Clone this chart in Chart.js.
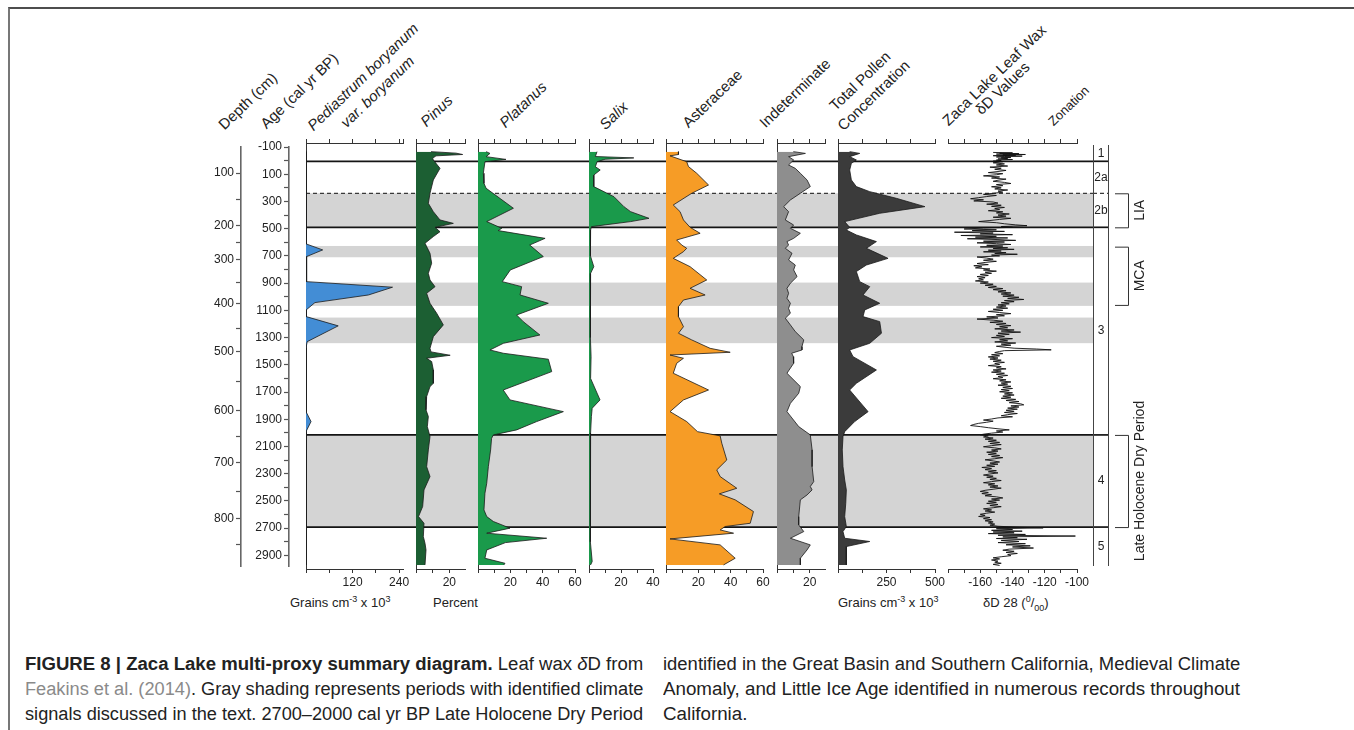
<!DOCTYPE html>
<html lang="en">
<head>
<meta charset="utf-8">
<title>Zaca Lake multi-proxy summary diagram</title>
<script src="https://cdn.jsdelivr.net/npm/chart.js@4.4.1/dist/chart.umd.min.js"></script>
<style>
  html, body { margin:0; padding:0; background:#fff; }
  #fig { position:relative; width:1354px; height:730px; overflow:hidden; background:#fff;
         font-family:"Liberation Sans", Arial, Helvetica, sans-serif; color:#222; }
  #frame { position:absolute; left:8px; top:7px; width:1400px; height:800px;
           border-top:2px solid #4d4d4d; border-left:2px solid #777; }
  canvas { position:absolute; }
  .hd { position:absolute; white-space:nowrap; font-size:15px; line-height:15px; color:#222;
        transform-origin:0 100%; transform:rotate(-44deg); }
  .it { font-style:italic; }
  .ax { position:absolute; white-space:nowrap; font-size:13px; line-height:15px; color:#222; }
  .ax sup, .ax sub { font-size:9px; line-height:0; }
  .cap { position:absolute; white-space:nowrap; font-size:18px; line-height:22px; color:#222;
         transform-origin:0 50%; }
  .ref { color:#8a8a8a; }
</style>
</head>
<body>
<div id="fig">
  <div id="frame"></div>

  <!-- column headings -->
  <div class="hd" style="left:226px;top:117px">Depth (cm)</div>
  <div class="hd" style="left:268px;top:116px">Age (cal yr BP)</div>
  <div class="hd it" style="left:315px;top:118px">Pediastrum boryanum</div>
  <div class="hd it" style="left:348px;top:115px">var. boryanum</div>
  <div class="hd it" style="left:428px;top:114px">Pinus</div>
  <div class="hd it" style="left:507px;top:115px">Platanus</div>
  <div class="hd it" style="left:607px;top:117px">Salix</div>
  <div class="hd" style="left:690px;top:115px">Asteraceae</div>
  <div class="hd" style="left:767px;top:115px">Indeterminate</div>
  <div class="hd" style="left:837px;top:98px">Total Pollen</div>
  <div class="hd" style="left:845px;top:118px">Concentration</div>
  <div class="hd" style="left:950px;top:113px">Zaca Lake Leaf Wax</div>
  <div class="hd" style="left:983px;top:102px">δD Values</div>
  <div class="hd" style="left:1055px;top:115px;font-size:13px;line-height:13px">Zonation</div>

  <!-- axis units -->
  <div class="ax" style="left:290px;top:595px">Grains cm<sup>-3</sup> x 10<sup>3</sup></div>
  <div class="ax" style="left:433px;top:595px">Percent</div>
  <div class="ax" style="left:838px;top:595px">Grains cm<sup>-3</sup> x 10<sup>3</sup></div>
  <div class="ax" style="left:983px;top:595px">δD 28 (<sup>0</sup>/<sub>00</sub>)</div>

  <!-- caption -->
  <div class="cap" data-w="618" style="left:25px;top:653px"><b>FIGURE 8 | Zaca Lake multi-proxy summary diagram.</b> Leaf wax <i>δ</i>D from</div>
  <div class="cap" data-w="618" style="left:25px;top:678px"><span class="ref">Feakins et al. (2014)</span>. Gray shading represents periods with identified climate</div>
  <div class="cap" data-w="618" style="left:25px;top:703px">signals discussed in the text. 2700–2000 cal yr BP Late Holocene Dry Period</div>
  <div class="cap" data-w="577" style="left:663px;top:653px">identified in the Great Basin and Southern California, Medieval Climate</div>
  <div class="cap" data-w="577" id="capLast" style="left:663px;top:678px">Anomaly, and Little Ice Age identified in numerous records throughout</div>
  <div class="cap" data-follow="capLast" style="left:663px;top:703px">California.</div>
</div>

<script>
// ---------------------------------------------------------------------------
// Age–depth model (depth in cm at each age in cal yr BP)
const depthTicks      = [100, 150, 200, 250, 300, 350, 400, 450, 500, 550, 600, 650, 700, 750, 800, 850];
const depthTickAges   = [91, 282, 480, 605, 730, 899, 1053, 1236, 1405, 1623, 1836, 2029, 2218, 2431, 2629, 2822];
const depthLabelled   = [100, 200, 300, 400, 500, 600, 700, 800];

// Age axis ticks (cal yr BP)
const ageTicks    = [-100, 0, 100, 200, 300, 400, 500, 600, 700, 800, 900, 1000, 1100, 1200, 1300, 1400, 1500,
                     1600, 1700, 1800, 1900, 2000, 2100, 2200, 2300, 2400, 2500, 2600, 2700, 2800, 2900];
const ageLabelled = [-100, 100, 300, 500, 700, 900, 1100, 1300, 1500, 1700, 1900, 2100, 2300, 2500, 2700, 2900];

// Zones, sub-zone boundary and climate periods (cal yr BP)
const zoneBounds    = [5, 490, 2015, 2692];
const subzoneBounds = [240];
const zoneNames     = ['1', '2a', '2b', '3', '4', '5'];
const zoneTops      = [-100, 5, 240, 490, 2015, 2692];
const zoneBottoms   = [5, 240, 490, 2015, 2692, 2978];
const shadedStart   = [240, 627, 896, 1153, 2015];
const shadedEnd     = [490, 710, 1067, 1341, 2692];
const periodNames   = ['LIA', 'MCA', 'Late Holocene Dry Period'];
const periodStart   = [240, 632, 2015];
const periodEnd     = [490, 1060, 2692];

// Pediastrum boryanum var. boryanum (grains cm-3 x 10^3)
const pediastrumAge   = [-66, 600, 612, 656, 705, 889, 930, 987, 1043, 1097, 1146, 1214, 1330, 1378, 1844, 1917, 1991, 2970];
const pediastrumValue = [0, 0, 1, 43, 1.5, 1.5, 223, 161, 23, 0.5, 0.5, 83, 3, 0, 0, 13, 0, 0];

// Pinus (%)
const pinusAge   = [-66, -55, -45, -35, -17, -4.5, 57, 142, 240, 314, 375, 436, 461, 490, 522, 558, 607, 681, 754, 828,
                    877, 926, 975, 1048, 1121, 1207, 1293, 1379, 1405, 1430, 1452, 1476, 1538, 1636, 1660, 1733, 1831,
                    1880, 1954, 2027, 2125, 2248, 2321, 2419, 2541, 2615, 2664, 2762, 2811, 2860, 2970];
const pinusValue = [9, 24, 28, 12, 10, 10.4, 14.4, 10.4, 8.4, 7.4, 10.4, 14.4, 22.4, 11.4, 14.4, 10.4, 5.4, 8.4, 9.4, 7.4,
                    8.4, 11.4, 6.4, 8.4, 12.4, 16.4, 10.4, 8.4, 9, 20.5, 6.4, 9.4, 10.4, 10.4, 8.4, 6.4, 6,
                    7.4, 6.8, 8.4, 7.4, 6.4, 8.4, 4.8, 4.0, 1.5, 4.8, 4.4, 5.4, 6.0, 5.4];

// Platanus (%)
const platanusAge   = [-66, -53, -29, -9, 8, 93, 167, 203, 350, 448, 497, 514, 571, 620, 705, 803, 889, 926, 987, 1048,
                       1134, 1183, 1281, 1342, 1391, 1415, 1459, 1550, 1685, 1758, 1844, 1917, 1978, 2015, 2040, 2125,
                       2248, 2370, 2443, 2566, 2615, 2651, 2700, 2737, 2774, 2806, 2860, 2921, 2958, 2970];
const platanusValue = [5, 7.4, 5, 17.3, 4.3, 3.3, 3.7, 5, 21.9, 5.4, 14.7, 12.5, 41.5, 32, 40.4, 20, 15, 27, 26, 43.5,
                       23.9, 28, 38.3, 15.7, 7.4, 15.6, 43.5, 45.6, 15.6, 19.8, 52.8, 36.3, 23.9, 9.5, 8.4, 7.8,
                       6.4, 5.4, 4.3, 3.7, 5.4, 9.5, 19.8, 5.4, 42.5, 17, 5.4, 4.3, 16.7, 16];

// Salix (%)
const salixAge   = [-66, -30, -20, -10, 8, 45, 69, 106, 191, 265, 338, 375, 424, 448, 485, 510, 560, 700, 779, 828,
                    900, 1000, 1100, 1200, 1300, 1440, 1600, 1758, 1819, 1880, 2000, 2200, 2400, 2600, 2800, 2945, 2970];
const salixValue = [5, 4, 28, 10, 5, 4, 7, 3, 3, 15.6, 21.8, 26, 37.5, 26, 1.5, 1, 0.8, 1, 3, 1,
                    0.8, 1, 0.8, 1, 0.7, 1.3, 1, 6.9, 2, 1.5, 1, 0.8, 1, 0.8, 0.8, 2, 1];

// Asteraceae (%)
const asteraceaeAge   = [-66, -45, -35, 8, 44, 93, 179, 240, 326, 375, 436, 490, 534, 583, 620, 644, 669, 718, 779, 877,
                         938, 987, 1024, 1073, 1146, 1220, 1268, 1317, 1379, 1408, 1428, 1452, 1489, 1562, 1685, 1758,
                         1844, 1917, 1991, 2022, 2076, 2199, 2272, 2321, 2407, 2448, 2492, 2578, 2664, 2688, 2713,
                         2737, 2779, 2823, 2921, 2970];
const asteraceaeValue = [7.7, 7.7, 2.5, 12.8, 13.9, 19, 26.3, 15.9, 4.5, 8.7, 10.8, 14.9, 21.1, 6.6, 9.7, 12.8, 10.8, 4.5, 14.9, 25.2,
                         14.9, 24.2, 10.8, 7.7, 7.7, 10.8, 7.7, 15.9, 27.3, 39.7, 2.5, 10.8, 6.6, 4.5, 26.3, 10.8,
                         2.5, 12.8, 19.5, 33.5, 34.5, 37.6, 31.4, 33.5, 43.8, 33, 42.8, 54.1, 52.1, 36.6, 33.5,
                         41.8, 2.5, 33.5, 42.8, 35.6];

// Indeterminate (%)
const indetAge   = [-66, -53, -29, -5, 32, 57, 93, 142, 191, 240, 289, 338, 375, 436, 473, 497, 534, 571, 595, 620,
                    644, 681, 730, 767, 803, 852, 901, 938, 975, 1011, 1048, 1085, 1121, 1158, 1207, 1256, 1317, 1366,
                    1391, 1415, 1440, 1489, 1562, 1660, 1709, 1783, 1844, 1954, 2015, 2125, 2248, 2358, 2394, 2419,
                    2456, 2492, 2615, 2676, 2725, 2774, 2823, 2860, 2921, 2970];
const indetValue = [10, 17.4, 7.1, 10.2, 7.1, 11.2, 14.3, 18.4, 20.4, 14.3, 8.2, 4.1, 7.1, 5.1, 10.2, 8.2, 14.3, 10.2, 6.1, 7.1,
                    5.1, 9.2, 7.1, 11.2, 10.2, 12.3, 8.2, 6.1, 7.1, 6.1, 8.2, 7.1, 8.2, 5.1, 8.2, 11.2, 16.4, 15.3,
                    15.3, 9, 10, 10.2, 6.1, 14.3, 13.3, 8.2, 6.1, 13.3, 20.4, 21.5, 21.5, 22.5, 20.4, 21.5,
                    18.4, 14.3, 13.3, 13.3, 16.4, 8.2, 20.4, 18.4, 14.3, 14.3];

// Total pollen concentration (grains cm-3 x 10^3)
const totalAge   = [-66, -53, -29, -5, 20, 69, 142, 191, 228, 277, 338, 387, 448, 490, 510, 546, 595, 644, 718, 767,
                    815, 889, 926, 987, 1048, 1097, 1146, 1183, 1268, 1342, 1391, 1440, 1538, 1636, 1685, 1844, 1917,
                    1991, 2027, 2125, 2248, 2346, 2419, 2517, 2615, 2688, 2725, 2774, 2798, 2835, 2909, 2970];
const totalValue = [60, 112, 60, 94.7, 68.9, 60.3, 68.9, 94.7, 163.5, 301, 448, 215, 34.5, 60, 43, 94.7, 198, 146.4, 258, 146.4,
                    94.7, 112, 163.5, 129, 215, 137.8, 129, 215, 224, 163.5, 60, 77.5, 198, 94.7, 60, 155, 86,
                    34.5, 25.8, 22, 25.8, 34.5, 43, 40, 34.5, 43, 25.8, 34.5, 163.5, 43, 43, 43];

// Zaca Lake leaf wax dD (per mil)
const dDAge = [
  -60, -57, -54, -51, -48, -45, -42, -39, -36, -33, -30, -27, -24, -20, -16, -12, -8, -4, 0, 4,
  8, 16, 24, 32, 40, 48, 56, 64, 72, 80, 88, 96, 104, 112, 120, 128, 136, 144, 152, 160,
  168, 176, 184, 192, 200, 208, 216, 224, 232, 240,
  248, 256, 264, 272, 280, 288, 296, 304, 312, 320, 328, 336, 344, 352, 360, 368, 376, 384, 392, 400,
  408, 416, 424, 432, 440, 448, 456, 464, 472, 478, 484, 490,
  496, 502, 508, 514, 520, 526, 532, 538, 544, 550, 556, 562, 568, 574, 580, 586, 592, 598, 604, 610,
  616, 622, 628, 634, 640, 646, 652, 658, 664, 670, 676, 682, 688, 694, 700,
  708, 716, 724, 732, 740, 748, 756, 764, 772, 780, 788, 796, 804, 812, 820, 828, 836, 844, 852, 860,
  868, 876, 884, 892, 900, 908, 916, 924, 932, 940, 948, 956, 964, 972, 980, 988, 996, 1004, 1012, 1020,
  1028, 1036, 1044, 1052, 1060, 1068,
  1076, 1084, 1092, 1100, 1108, 1116, 1124, 1132, 1140, 1148, 1156, 1164, 1172, 1180, 1188, 1196, 1204, 1212, 1220, 1228,
  1236, 1244, 1252, 1260, 1268, 1276, 1284, 1292, 1300, 1308, 1316, 1324, 1332, 1340, 1348, 1356, 1364, 1372,
  1378, 1384, 1390, 1396, 1402,
  1410, 1418, 1426, 1434, 1442, 1450, 1458, 1466, 1474, 1482, 1490, 1498, 1506, 1514, 1522, 1530, 1538, 1546, 1554, 1562,
  1570, 1578, 1586, 1594, 1602, 1610, 1618, 1626, 1634, 1642, 1650, 1658, 1666, 1674, 1682, 1690, 1698, 1706, 1714, 1722,
  1730, 1738, 1746, 1754, 1762, 1770, 1778, 1786, 1794, 1802, 1810, 1818, 1826, 1834, 1842, 1850, 1858, 1866, 1874, 1882,
  1890, 1898, 1906, 1914, 1922, 1930, 1938, 1946, 1954, 1962, 1970, 1978, 1986, 1994, 2002, 2008,
  2014, 2022, 2030, 2038, 2046, 2054, 2062, 2070, 2078, 2086, 2094, 2102, 2110, 2118, 2126, 2134, 2142, 2150, 2158, 2166,
  2174, 2182, 2190, 2198, 2206, 2214, 2222, 2230, 2238, 2246, 2254, 2262, 2270, 2278, 2286, 2294, 2302, 2310, 2318, 2326,
  2334, 2342, 2350, 2358, 2366, 2374, 2382, 2390, 2398, 2406, 2414, 2422, 2430, 2438, 2446, 2454, 2462, 2470, 2478, 2486,
  2494, 2502, 2510, 2518, 2526, 2534, 2542, 2550, 2558, 2566, 2574, 2582, 2590, 2598, 2606, 2614, 2622, 2630, 2638, 2646,
  2654, 2662, 2670, 2678, 2686,
  2694, 2698, 2704, 2710, 2716, 2722, 2728, 2734, 2740, 2746, 2752, 2758, 2764, 2770, 2776, 2782, 2790, 2798, 2806, 2814,
  2822, 2830, 2838, 2846, 2854, 2862, 2870, 2878, 2886, 2894, 2902, 2910, 2918, 2926, 2934, 2942, 2950, 2958, 2966, 2974
];
const dDValue = [
  -152, -140, -148, -136, -150, -132, -146, -138, -152, -134, -145, -150, -141, -147, -143, -149, -140, -150, -147, -152,
  -146, -152, -145, -150, -143, -154, -147, -151, -144, -149, -155, -146, -150, -158, -148, -153, -144, -149, -152, -145,
  -141, -150, -146, -153, -147, -151, -143, -149, -146, -152,
  -158, -150, -156, -161, -166, -158, -164, -152, -149, -156, -147, -153, -145, -151, -148, -155, -146, -150, -142, -149,
  -144, -152, -141, -148, -154, -161, -150, -145, -138, -131, -147, -140,
  -158, -170, -150, -165, -145, -176, -152, -160, -140, -172, -150, -163, -143, -168, -149, -138, -158, -145, -162, -150,
  -141, -156, -146, -160, -143, -152, -139, -155, -147, -158, -144, -151, -137, -153, -148,
  -162, -156, -152, -158, -150, -157, -162, -155, -164, -159, -163, -154, -158, -150, -157, -153, -160, -155, -162, -157,
  -161, -158, -163, -155, -160, -152, -157, -150, -155, -146, -152, -144, -149, -141, -147, -139, -146, -136, -143, -133,
  -145, -139, -147, -142, -149, -144,
  -150, -143, -152, -146, -155, -148, -141, -150, -145, -156, -149, -162, -152, -146, -154, -144, -150, -141, -148, -143,
  -151, -139, -147, -135, -149, -142, -150, -145, -153, -140, -148, -143, -151, -138, -147, -141, -150, -144,
  -139, -125, -116, -145, -148,
  -151, -146, -153, -148, -155, -149, -154, -147, -152, -145, -151, -148, -155, -147, -150, -144, -152, -147, -153, -145,
  -150, -143, -149, -146, -152, -144, -148, -141, -147, -143, -149, -141, -146, -140, -147, -142, -148, -140, -145, -139,
  -146, -141, -147, -138, -144, -136, -142, -135, -133, -141, -136, -143, -137, -144, -139, -145, -137, -143, -147, -140,
  -149, -153, -158, -152, -156, -161, -164, -166, -160, -155, -149, -142, -150, -146, -153, -157,
  -160, -155, -158, -152, -157, -150, -155, -148, -154, -147, -153, -158, -151, -147, -153, -149, -156, -150, -155, -148,
  -153, -146, -151, -157, -152, -148, -154, -149, -156, -151, -159, -153, -157, -150, -155, -149, -154, -158, -152, -156,
  -150, -154, -147, -153, -158, -151, -155, -149, -154, -147, -152, -157, -160, -155, -159, -153, -157, -150, -146, -153,
  -148, -155, -150, -156, -149, -154, -147, -152, -158, -153, -157, -151, -156, -160, -157, -161, -154, -158, -153, -157,
  -152, -155, -151, -154, -149,
  -135, -121, -150, -140, -153, -134, -152, -139, -155, -132, -149, -101, -146, -137, -150, -131, -147, -136, -149, -132,
  -144, -129, -140, -127, -142, -146, -139, -144, -137, -143, -141, -147, -152, -148, -153, -149, -151, -147, -152, -148
];

// Bottom-axis ticks for each column
const pediastrumTicks = [0, 60, 120, 180, 240], pediastrumLabels = [120, 240];
const pinusTicks = [0, 10, 20],                  pinusLabels = [20];
const platanusTicks = [0, 10, 20, 30, 40, 50, 60], platanusLabels = [20, 40, 60];
const salixTicks = [0, 10, 20, 30, 40],          salixLabels = [20, 40];
const asteraceaeTicks = [0, 10, 20, 30, 40, 50, 60], asteraceaeLabels = [20, 40, 60];
const indetTicks = [0, 10, 20],                  indetLabels = [20];
const totalTicks = [0, 125, 250, 375, 500],      totalLabels = [250, 500];
const dDTicks = [-180, -170, -160, -150, -140, -130, -120, -110, -100], dDLabels = [-160, -140, -120, -100];

// ---------------------------------------------------------------------------
const FONT = "'Liberation Sans', Arial, Helvetica, sans-serif";
Chart.defaults.font.family = FONT;
Chart.defaults.color = '#222';

const fig = document.getElementById('fig');
const FRAME_TOP = 143, FRAME_BOTTOM = 569;          // panel frame (scale bars)
const AXIS_TOP = 147, AXIS_BOTTOM = 566;            // age / depth axis lines
const AGE_MIN = -129.4, AGE_MAX = 3000;
const PX_PER_YR = (FRAME_BOTTOM - FRAME_TOP) / (AGE_MAX - AGE_MIN);
const AXIS_MIN = AGE_MIN + (AXIS_TOP - FRAME_TOP) / PX_PER_YR;
const AXIS_MAX = AGE_MAX - (FRAME_BOTTOM - AXIS_BOTTOM) / PX_PER_YR;

const baseOpts = {
  responsive: false, animation: false, devicePixelRatio: 1, events: [],
  plugins: { legend: { display: false }, tooltip: { enabled: false } }
};

function makeCanvas(rect, m) {
  const c = document.createElement('canvas');
  const w = rect.r - rect.l + m.l + m.r, h = rect.b - rect.t + m.t + m.b;
  c.width = w; c.height = h;
  c.style.left = (rect.l - m.l) + 'px';
  c.style.top = (rect.t - m.t) + 'px';
  c.style.width = w + 'px';
  c.style.height = h + 'px';
  fig.appendChild(c);
  return c;
}

function hLine(ctx, x1, x2, y, dashed) {
  ctx.save();
  ctx.beginPath();
  if (dashed) { ctx.setLineDash([4, 3]); ctx.lineWidth = 1.2; ctx.strokeStyle = '#3a3a3a'; }
  else { ctx.lineWidth = 1.7; ctx.strokeStyle = '#141414'; }
  ctx.moveTo(x1, y); ctx.lineTo(x2, y);
  ctx.stroke();
  ctx.restore();
}

// shading of climate periods plus zone boundaries, behind all columns
const bandPlugin = {
  id: 'bands',
  beforeDraw(chart) {
    const { ctx, chartArea: a, scales: { y } } = chart;
    ctx.save();
    ctx.fillStyle = '#d4d4d4';
    shadedStart.forEach((s, i) => {
      const y1 = y.getPixelForValue(s), y2 = y.getPixelForValue(shadedEnd[i]);
      ctx.fillRect(a.left, y1, a.right - a.left, y2 - y1);
    });
    ctx.restore();
    zoneBounds.forEach(b => hLine(ctx, a.left, a.right, y.getPixelForValue(b), false));
    subzoneBounds.forEach(b => hLine(ctx, a.left, a.right, y.getPixelForValue(b), true));
  }
};

function hiddenScales() {
  return {
    x: { type: 'linear', display: false, min: 0, max: 1 },
    y: { type: 'linear', display: false, reverse: true, min: AGE_MIN, max: AGE_MAX }
  };
}

// background layer
(function () {
  const cv = makeCanvas({ l: 306, r: 1093, t: FRAME_TOP, b: FRAME_BOTTOM }, { l: 0, r: 0, t: 0, b: 0 });
  new Chart(cv, {
    type: 'line', data: { datasets: [] },
    options: { ...baseOpts, layout: { padding: 0 }, scales: hiddenScales() },
    plugins: [bandPlugin]
  });
})();

// vertical age-type axis (depth or age)
function verticalAxis(left, ticks, labelOf, width) {
  const rect = { l: left, r: left + 1, t: AXIS_TOP, b: AXIS_BOTTOM };
  const m = { l: width, r: 0, t: 10, b: 10 };
  const cv = makeCanvas(rect, m);
  new Chart(cv, {
    type: 'line', data: { datasets: [] },
    options: {
      ...baseOpts,
      layout: { padding: { left: 0, right: 0, top: 10, bottom: 10 } },
      scales: {
        x: { type: 'linear', display: false, min: 0, max: 1 },
        y: {
          type: 'linear', position: 'left', reverse: true, min: AXIS_MIN, max: AXIS_MAX,
          afterBuildTicks: s => { s.ticks = ticks.map(v => ({ value: v })); },
          afterFit: s => { s.width = width; },
          grid: { drawOnChartArea: false, drawTicks: true, tickLength: 5, tickColor: '#555', color: '#555', tickWidth: 1.2 },
          border: { display: true, color: '#666', width: 1.6 },
          ticks: { autoSkip: false, padding: 2, font: { size: 12 }, color: '#222', callback: labelOf }
        }
      }
    }
  });
}

verticalAxis(241, depthTickAges, v => {
  const d = depthTicks[depthTickAges.indexOf(v)];
  return depthLabelled.includes(d) ? String(d) : '';
}, 50);
verticalAxis(289, ageTicks, v => ageLabelled.includes(v) ? String(v) : '', 44);

// one column of the diagram
function column(rect, range, ticks, labels, dataset, zeroLine) {
  const M = { l: 24, r: 24, t: 12, b: 30 };
  const cv = makeCanvas({ l: rect[0], r: rect[1], t: FRAME_TOP, b: FRAME_BOTTOM }, M);
  const topTicks = ticks.includes(range[1]) ? ticks : ticks.concat([range[1]]);
  const gridCfg = { drawOnChartArea: false, drawTicks: true, tickLength: 4, tickColor: '#333', tickWidth: 1, color: '#333' };
  return new Chart(cv, {
    type: 'line',
    data: { datasets: [dataset] },
    options: {
      ...baseOpts,
      indexAxis: 'y',
      layout: { padding: { left: M.l, right: M.r, top: M.t - 6, bottom: 0 } },
      elements: { point: { radius: 0 }, line: { tension: 0 } },
      scales: {
        x: {
          type: 'linear', position: 'bottom', min: range[0], max: range[1],
          afterBuildTicks: s => { s.ticks = ticks.map(v => ({ value: v })); },
          afterFit: s => { s.height = M.b; },
          grid: gridCfg, border: { display: true, color: '#333', width: 1 },
          ticks: { autoSkip: false, maxRotation: 0, minRotation: 0, padding: 2, font: { size: 12 }, color: '#222',
                   callback: v => labels.includes(v) ? String(v) : '' }
        },
        xTop: {
          type: 'linear', axis: 'x', position: 'top', min: range[0], max: range[1],
          afterBuildTicks: s => { s.ticks = topTicks.map(v => ({ value: v })); },
          afterFit: s => { s.height = 6; },
          grid: gridCfg, border: { display: true, color: '#333', width: 1 },
          ticks: { display: false }
        },
        y: {
          type: 'linear', position: 'left', reverse: true, min: AGE_MIN, max: AGE_MAX,
          afterFit: s => { s.width = 0; },
          grid: { display: false }, border: { display: zeroLine !== false, color: '#333', width: 1 },
          ticks: { display: false }
        }
      }
    }
  });
}

function area(ages, values, color) {
  return {
    data: ages.map((a, i) => ({ x: values[i], y: a })),
    borderColor: '#1b1b1b', borderWidth: 0.8, backgroundColor: color,
    fill: 'origin', pointRadius: 0
  };
}

column([306, 403], [0, 250], pediastrumTicks, pediastrumLabels, area(pediastrumAge, pediastrumValue, '#438dd5'));
column([416, 465], [0, 29.4], pinusTicks, pinusLabels, area(pinusAge, pinusValue, '#1c5f33'));
column([478, 575], [0, 60], platanusTicks, platanusLabels, area(platanusAge, platanusValue, '#1a9a4b'));
column([589, 653], [0, 40], salixTicks, salixLabels, area(salixAge, salixValue, '#1a9a4b'));
column([666, 763], [0, 60], asteraceaeTicks, asteraceaeLabels, area(asteraceaeAge, asteraceaeValue, '#f69c26'));
column([777, 825], [0, 29.4], indetTicks, indetLabels, area(indetAge, indetValue, '#8e8e8e'));
column([838, 935], [0, 500], totalTicks, totalLabels, area(totalAge, totalValue, '#3b3b3b'));
column([948, 1077], [-180, -100], dDTicks, dDLabels, {
  data: dDAge.map((a, i) => ({ x: dDValue[i], y: a })),
  borderColor: '#111', borderWidth: 0.9, fill: false, pointRadius: 0
}, false);

// zonation column with climate-period brackets
const zonePlugin = {
  id: 'zones',
  afterDraw(chart) {
    const { ctx, chartArea: a, scales: { y } } = chart;
    zoneBounds.forEach(b => hLine(ctx, a.left, a.right, y.getPixelForValue(b), false));
    subzoneBounds.forEach(b => hLine(ctx, a.left, a.right, y.getPixelForValue(b), true));
    ctx.save();
    ctx.strokeStyle = '#444'; ctx.lineWidth = 1;
    ctx.beginPath();
    const top = a.top + 2, bottom = y.getPixelForValue(AXIS_MAX);
    ctx.moveTo(a.left + 0.5, top); ctx.lineTo(a.left + 0.5, bottom);
    ctx.moveTo(a.right - 0.5, top); ctx.lineTo(a.right - 0.5, bottom);
    ctx.stroke();
    ctx.fillStyle = '#222';
    ctx.font = '12px ' + FONT;
    ctx.textAlign = 'center'; ctx.textBaseline = 'middle';
    const cx = (a.left + a.right) / 2;
    zoneNames.forEach((n, i) => {
      ctx.fillText(n, cx, y.getPixelForValue((zoneTops[i] + zoneBottoms[i]) / 2));
    });
    // brackets
    const bx1 = a.right + 6, bx2 = a.right + 19;
    ctx.strokeStyle = '#333'; ctx.lineWidth = 1;
    ctx.font = '14px ' + FONT;
    periodNames.forEach((n, i) => {
      const y1 = y.getPixelForValue(periodStart[i]), y2 = y.getPixelForValue(periodEnd[i]);
      ctx.beginPath();
      ctx.moveTo(bx1, y1 + 0.5); ctx.lineTo(bx2 + 0.5, y1 + 0.5);
      ctx.lineTo(bx2 + 0.5, y2 + 0.5); ctx.lineTo(bx1, y2 + 0.5);
      ctx.stroke();
      ctx.save();
      ctx.translate(a.right + 31, (y1 + y2) / 2);
      ctx.rotate(-Math.PI / 2);
      ctx.fillText(n, 0, 0);
      ctx.restore();
    });
    ctx.restore();
  }
};
(function () {
  const cv = makeCanvas({ l: 1093, r: 1109, t: FRAME_TOP, b: FRAME_BOTTOM }, { l: 0, r: 60, t: 0, b: 0 });
  new Chart(cv, {
    type: 'line', data: { datasets: [] },
    options: { ...baseOpts, layout: { padding: { left: 0, right: 60, top: 0, bottom: 0 } }, scales: hiddenScales() },
    plugins: [zonePlugin]
  });
})();

// caption lines are set to the column width
function fitCaption() {
  const scales = {};
  document.querySelectorAll('.cap[data-w]').forEach(el => {
    el.style.transform = 'none';
    const s = el.dataset.w / el.scrollWidth;
    el.style.transform = 'scaleX(' + s + ')';
    if (el.id) scales[el.id] = s;
  });
  document.querySelectorAll('.cap[data-follow]').forEach(el => {
    el.style.transform = 'scaleX(' + (scales[el.dataset.follow] || 1) + ')';
  });
}
fitCaption();
if (document.fonts && document.fonts.ready) document.fonts.ready.then(fitCaption);
</script>
</body>
</html>
